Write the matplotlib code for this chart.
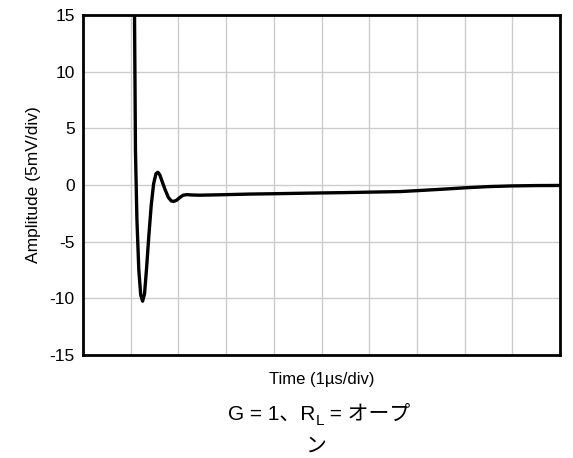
import numpy as np
from matplotlib import pyplot as plt

plt.rcParams['font.family'] = ['Liberation Sans', 'Noto Sans CJK JP', 'DejaVu Sans']
plt.rcParams['axes.unicode_minus'] = False

# time in divisions (1us/div), amplitude in divisions of 5mV
time = [1.06, 1.08, 1.10, 1.13, 1.17, 1.21, 1.25, 1.29, 1.33, 1.38,
        1.43, 1.48, 1.53, 1.57, 1.61, 1.66, 1.72, 1.79, 1.85, 1.90,
        1.96, 2.03, 2.10, 2.18, 2.28, 2.45, 3.0, 3.5, 4.0, 4.55,
        5.0, 5.5, 6.0, 6.65, 7.0, 7.5, 8.0, 8.5, 9.0, 9.5, 10.0]
amplitude = [18, 15, 3, -3, -7.5, -9.7, -10.25, -9.6, -7.5, -4.5,
             -1.8, 0.1, 1.0, 1.12, 0.9, 0.3, -0.4, -1.1, -1.4, -1.45,
             -1.35, -1.1, -0.9, -0.85, -0.88, -0.9, -0.85, -0.8, -0.77, -0.73,
             -0.7, -0.67, -0.63, -0.58, -0.5, -0.38, -0.25, -0.14, -0.08, -0.05, -0.04]

yticks = [-15, -10, -5, 0, 5, 10, 15]
xgrid = list(range(0, 11))

fig = plt.figure(figsize=(5.73, 4.58), dpi=100)
ax = fig.add_axes([83/573, 1-355/458, 477/573, 340/458])

ax.plot(time, amplitude, color='black', lw=2.4, solid_joinstyle='round')
ax.set_xlim(0, 10)
ax.set_ylim(-15, 15)
ax.set_xticks(xgrid)
ax.set_xticklabels([])
ax.set_yticks(yticks)
ax.tick_params(length=0, labelsize=12.5, pad=6)
ax.grid(True, color='#cccccc', lw=1)
for s in ax.spines.values():
    s.set_linewidth(2)
ax.set_xlabel('Time (1\u00b5s/div)', fontsize=12, labelpad=6)
ax.set_ylabel('Amplitude (5mV/div)', fontsize=12.5, labelpad=6)

# caption with subscript L built from separate pieces
r = fig.canvas.get_renderer()
x0, base = 228, 458 - 420
t1 = fig.text(x0/573, base/458, 'G = 1\u3001R', fontsize=15, va='baseline')
x1 = t1.get_window_extent(r).x1
t2 = fig.text(x1/573, (base-5)/458, 'L', fontsize=11, va='baseline')
x2 = t2.get_window_extent(r).x1
fig.text(x2/573, base/458, ' = \u30aa\u30fc\u30d7', fontsize=15, va='baseline')
fig.text(315/573, (458-452)/458, '\u30f3', fontsize=15, va='baseline', ha='center')

plt.savefig('out.png', dpi=100)
